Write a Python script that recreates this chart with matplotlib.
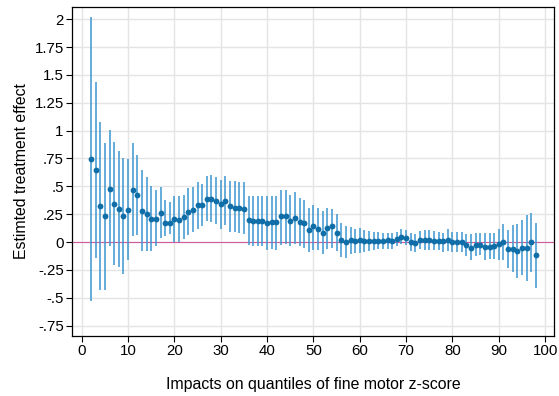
import matplotlib
matplotlib.use("Agg")
import matplotlib.pyplot as plt
import numpy as np

plt.rcParams['font.family'] = ['Liberation Sans', 'DejaVu Sans']

quantiles = list(range(2, 99))
estimate = [0.745, 0.65, 0.32, 0.23, 0.48, 0.34, 0.30, 0.23, 0.29, 0.47,
            0.42, 0.28, 0.25, 0.21, 0.21, 0.26, 0.17, 0.17, 0.21, 0.20,
            0.225, 0.27, 0.29, 0.33, 0.33, 0.39, 0.39, 0.37, 0.34, 0.37,
            0.32, 0.31, 0.31, 0.30, 0.195, 0.19, 0.185, 0.19, 0.17, 0.18,
            0.18, 0.23, 0.23, 0.19, 0.22, 0.18, 0.17, 0.11, 0.14, 0.12,
            0.085, 0.13, 0.145, 0.085, 0.015, -0.003, 0.015, 0.01, 0.018, 0.01,
            0.012, 0.01, 0.012, 0.012, 0.015, 0.01, 0.03, 0.048, 0.039, 0.0,
            -0.006, 0.018, 0.018, 0.018, 0.012, 0.006, 0.005, 0.018, -0.003, -0.003,
            -0.003, -0.03, -0.05, -0.03, -0.024, -0.042, -0.042, -0.036, -0.021, -0.003,
            -0.063, -0.063, -0.081, -0.054, -0.054, -0.003, -0.12]
ci_upper = [2.02, 1.44, 1.08, 0.89, 1.006, 0.895, 0.82, 0.75, 0.745, 0.89,
            0.78, 0.65, 0.58, 0.50, 0.47, 0.49, 0.38, 0.36, 0.41, 0.41,
            0.42, 0.485, 0.49, 0.54, 0.52, 0.59, 0.60, 0.58, 0.56, 0.59,
            0.55, 0.545, 0.54, 0.54, 0.415, 0.41, 0.41, 0.415, 0.41, 0.41,
            0.415, 0.47, 0.47, 0.425, 0.45, 0.395, 0.38, 0.31, 0.335, 0.305,
            0.275, 0.305, 0.30, 0.25, 0.17, 0.14, 0.135, 0.12, 0.13, 0.11,
            0.10, 0.09, 0.087, 0.085, 0.08, 0.078, 0.088, 0.114, 0.11, 0.083,
            0.076, 0.10, 0.105, 0.105, 0.10, 0.09, 0.085, 0.117, 0.09, 0.093,
            0.09, 0.069, 0.069, 0.078, 0.078, 0.078, 0.078, 0.084, 0.114, 0.16,
            0.108, 0.153, 0.159, 0.20, 0.243, 0.26, 0.168]
ci_lower = [-0.53, -0.14, -0.43, -0.43, -0.04, -0.21, -0.22, -0.29, -0.16, 0.05,
            0.06, -0.08, -0.08, -0.08, -0.04, 0.04, 0.05, 0.07, 0.00, 0.00,
            0.03, 0.06, 0.09, 0.12, 0.14, 0.19, 0.18, 0.165, 0.12, 0.15,
            0.09, 0.09, 0.08, 0.07, -0.03, -0.035, -0.035, -0.04, -0.07, -0.06,
            -0.07, -0.03, -0.02, -0.04, -0.02, -0.035, -0.05, -0.09, -0.07, -0.07,
            -0.11, -0.06, -0.05, -0.08, -0.13, -0.14, -0.11, -0.10, -0.10, -0.09,
            -0.08, -0.07, -0.066, -0.066, -0.06, -0.06, -0.035, -0.018, -0.03, -0.08,
            -0.085, -0.066, -0.07, -0.07, -0.07, -0.07, -0.086, -0.078, -0.085, -0.09,
            -0.085, -0.126, -0.16, -0.126, -0.12, -0.16, -0.15, -0.15, -0.16, -0.16,
            -0.23, -0.27, -0.32, -0.30, -0.35, -0.27, -0.41]

xticks = list(range(0, 101, 10))
yticks = [2, 1.75, 1.5, 1.25, 1, 0.75, 0.5, 0.25, 0, -0.25, -0.5, -0.75]
ytick_labels = ['2', '1.75', '1.5', '1.25', '1', '.75', '.5', '.25', '0', '-.25', '-.5', '-.75']

fig = plt.figure(figsize=(5.59, 3.96), dpi=100)
ax = fig.add_axes([0.1288, 0.1525, 0.8622, 0.8298])

ax.set_xlim(-2.1, 101.9)
ax.set_ylim(-0.84, 2.11)

for t in xticks:
    ax.axvline(t, color='#e4e4e4', lw=1.0, zorder=0)
for t in yticks:
    ax.axhline(t, color='#e4e4e4', lw=1.0, zorder=0)

ax.axhline(0, color='#d25a9c', lw=0.8, zorder=1)

ax.vlines(quantiles, ci_lower, ci_upper, color='#3d97cf', lw=1.3, alpha=0.85, zorder=2)
ax.plot(quantiles, estimate, 'o', color='#0f6ea8', markersize=4.2, markeredgewidth=0, zorder=3)

ax.set_xticks(xticks)
ax.set_xticklabels([str(t) for t in xticks], fontsize=10.8)
ax.set_yticks(yticks)
ax.set_yticklabels(ytick_labels, fontsize=10.8)
ax.tick_params(axis='both', direction='out', length=4, width=0.8, color='black', pad=2)

for s in ax.spines.values():
    s.set_color('black')
    s.set_linewidth(0.9)

ax.set_xlabel('Impacts on quantiles of fine motor z-score', fontsize=11.4, labelpad=14)
ax.set_ylabel('Estimted treatment effect', fontsize=11.4, labelpad=4)

fig.savefig('out.png', dpi=100)
